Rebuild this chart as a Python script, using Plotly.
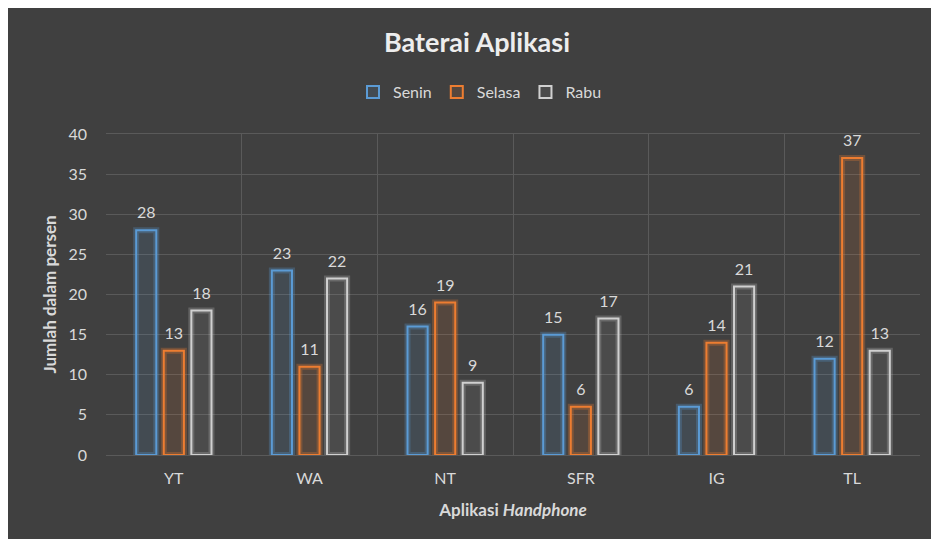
import plotly.graph_objects as go

categories = ["YT", "WA", "NT", "SFR", "IG", "TL"]
senin = [28, 23, 16, 15, 6, 12]
selasa = [13, 11, 19, 6, 14, 37]
rabu = [18, 22, 9, 17, 21, 13]
series_names = ["Senin", "Selasa", "Rabu"]
y_ticks = [0, 5, 10, 15, 20, 25, 30, 35, 40]

series = [senin, selasa, rabu]
line_colors = ["#5B9BD5", "#ED7D31", "#D0D0D0"]
fill_colors = ["rgba(91,155,213,0.12)", "rgba(237,125,49,0.12)", "rgba(200,200,200,0.08)"]
glow_colors = ["rgba(91,155,213,0.28)", "rgba(237,125,49,0.28)", "rgba(220,220,220,0.22)"]

FONT = "Lato, 'Open Sans', sans-serif"
TXT = "#D9D9D9"
BG = "#404040"
GRID = "#5A5A5A"

fig = go.Figure()
for i, (name, vals) in enumerate(zip(series_names, series)):
    # glow layer
    fig.add_trace(go.Bar(
        x=categories, y=vals, name=name, offsetgroup=str(i),
        marker=dict(color="rgba(0,0,0,0)", line=dict(color=glow_colors[i], width=6)),
        showlegend=False, hoverinfo="skip",
    ))
    fig.add_trace(go.Bar(
        x=categories, y=vals, name=name, offsetgroup=str(i),
        marker=dict(color=fill_colors[i], line=dict(color=line_colors[i], width=2)),
    ))
for i, vals in enumerate(series):
    # data labels, aligned with the grouped bars
    fig.add_trace(go.Scatter(
        x=categories, y=vals, mode="markers+text", offsetgroup=str(i),
        marker=dict(size=11, color="rgba(0,0,0,0)"),
        text=[str(v) for v in vals], textposition="top center",
        textfont=dict(color=TXT, size=16, family=FONT),
        showlegend=False, hoverinfo="skip", cliponaxis=False,
    ))

fig.update_layout(
    width=923, height=531,
    margin=dict(l=98, r=11, t=126, b=84),
    paper_bgcolor=BG, plot_bgcolor=BG,
    barmode="group", bargap=0.39, bargroupgap=0.27, scattermode="group",
    font=dict(family=FONT, color=TXT, size=16),
    title=dict(text="<b>Baterai Aplikasi</b>", x=469 / 923, xanchor="center",
               y=1 - 35 / 531, yanchor="middle", yref="container",
               font=dict(size=27, color="#EDEDED", family=FONT)),
    legend=dict(orientation="h", x=472 / 923, xanchor="center", xref="container",
                y=1 - 84 / 531, yanchor="middle", yref="container",
                font=dict(size=16, color=TXT, family=FONT),
                itemwidth=30, bgcolor="rgba(0,0,0,0)", traceorder="normal"),
    showlegend=True,
)
fig.update_xaxes(
    type="category", tickson="boundaries", showgrid=True, gridcolor=GRID, gridwidth=1,
    showline=True, linecolor=GRID, mirror=True, ticks="",
    tickfont=dict(size=16, color=TXT, family=FONT), ticklabelstandoff=9,
    title=dict(text="<b>Aplikasi <i>Handphone</i></b>", standoff=17,
               font=dict(size=17, color=TXT, family=FONT)),
)
fig.update_yaxes(
    range=[0, 40], tickvals=y_ticks, showgrid=True, gridcolor=GRID, gridwidth=1,
    zeroline=False, ticks="", tickfont=dict(size=16, color=TXT, family=FONT),
    ticklabelstandoff=18,
    title=dict(text="<b>Jumlah dalam persen</b>", standoff=7,
               font=dict(size=17, color=TXT, family=FONT)),
)

fig.write_html("out.html")
